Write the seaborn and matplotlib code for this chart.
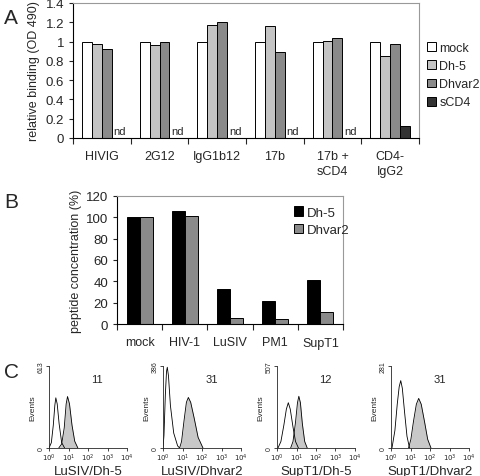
import numpy as np
import pandas as pd
import seaborn as sns
from matplotlib import pyplot as plt
from matplotlib.ticker import FormatStrFormatter, FixedLocator

sns.set_style('ticks')
plt.rcParams['font.family'] = ['Liberation Sans', 'DejaVu Sans']

# panel A data
a_groups = ['HIVIG', '2G12', 'IgG1b12', '17b', '17b +\nsCD4', 'CD4-\nIgG2']
a_series = ['mock', 'Dh-5', 'Dhvar2', 'sCD4']
a_mock = [1.0, 1.0, 1.0, 1.0, 1.0, 1.0]
a_dh5 = [0.98, 0.965, 1.17, 1.16, 1.01, 0.85]
a_dhvar2 = [0.92, 1.0, 1.2, 0.89, 1.04, 0.975]
a_scd4 = [np.nan, np.nan, np.nan, np.nan, np.nan, 0.12]
a_colors = ['white', '#c4c4c4', '#8a8a8a', '#333333']

# panel B data
b_groups = ['mock', 'HIV-1', 'LuSIV', 'PM1', 'SupT1']
b_series = ['Dh-5', 'Dhvar2']
b_dh5 = [100, 106, 33, 21.5, 41.5]
b_dhvar2 = [100, 101, 6, 5, 11.5]
b_colors = ['black', '#8a8a8a']

# panel C data (log10 fluorescence, events)
c_titles = ['LuSIV/Dh-5', 'LuSIV/Dhvar2', 'SupT1/Dh-5', 'SupT1/Dhvar2']
c_max = [613, 386, 507, 281]
c_pct = ['11', '31', '12', '31']
c_open_x = [
    [0.0, 0.12, 0.22, 0.30, 0.35, 0.42, 0.52, 0.65, 0.80],
    [0.0, 0.05, 0.12, 0.18, 0.22, 0.28, 0.38, 0.55, 0.75, 0.85],
    [0.05, 0.2, 0.35, 0.48, 0.58, 0.68, 0.82, 0.95, 1.1],
    [0.05, 0.2, 0.32, 0.42, 0.5, 0.58, 0.7, 0.82, 0.95],
]
c_open_y = [
    [0, 40, 170, 320, 375, 330, 180, 40, 0],
    [0, 60, 250, 360, 380, 340, 200, 70, 10, 0],
    [0, 40, 140, 240, 280, 240, 130, 40, 0],
    [0, 60, 150, 210, 231, 205, 120, 40, 0],
]
c_fill_x = [
    [0.50, 0.65, 0.78, 0.88, 0.95, 1.05, 1.18, 1.32, 1.48],
    [0.85, 0.95, 1.08, 1.2, 1.3, 1.42, 1.6, 1.8, 2.05],
    [0.7, 0.82, 0.95, 1.05, 1.12, 1.2, 1.3, 1.42, 1.55],
    [0.9, 1.02, 1.15, 1.3, 1.42, 1.55, 1.72, 1.88, 2.05],
]
c_fill_y = [
    [0, 30, 150, 330, 385, 330, 170, 50, 0],
    [0, 30, 130, 215, 238, 215, 140, 50, 0],
    [0, 40, 160, 280, 320, 280, 150, 40, 0],
    [0, 30, 90, 150, 170, 150, 90, 30, 0],
]

W, H = 480, 477
fig = plt.figure(figsize=(4.8, 4.77), dpi=100)


def box(x0, y0, x1, y1):
    return [x0 / W, 1 - y1 / H, (x1 - x0) / W, (y1 - y0) / H]


def style_box(ax):
    for s in ['top', 'right']:
        ax.spines[s].set_visible(True)
        ax.spines[s].set_color('#999999')
        ax.spines[s].set_linewidth(0.8)
    for s in ['left', 'bottom']:
        ax.spines[s].set_color('black')
        ax.spines[s].set_linewidth(0.8)


# ---- A ----
dfa = pd.DataFrame({'group': np.repeat(a_groups, 4),
                    'series': a_series * len(a_groups),
                    'value': np.ravel(np.column_stack([a_mock, a_dh5, a_dhvar2, a_scd4]))})
axA = fig.add_axes(box(73, 4, 419, 139))
wA = 0.69
sns.barplot(data=dfa, x='group', y='value', hue='series', palette=a_colors,
            width=wA, edgecolor='black', linewidth=0.7, ax=axA)
for i, v in enumerate(a_scd4):
    if np.isnan(v):
        axA.text(i + wA / 4 + 0.03, 0.02, 'nd', fontsize=8, ha='left', va='bottom')
axA.set_ylim(0, 1.4)
axA.set_xlim(-0.5, len(a_groups) - 0.5)
axA.set_yticks(np.arange(0, 1.41, 0.2))
axA.yaxis.set_major_formatter(FormatStrFormatter('%g'))
axA.tick_params(axis='y', labelsize=9.5, length=3, width=0.8)
axA.tick_params(axis='x', which='major', length=0, pad=9, labelsize=9)
axA.xaxis.set_minor_locator(FixedLocator(np.arange(-0.5, len(a_groups), 1)))
axA.tick_params(axis='x', which='minor', length=4, width=0.8)
for lab in axA.get_xticklabels():
    lab.set_linespacing(1.3)
    lab.set_va('top')
axA.set_xlabel('')
axA.set_ylabel('relative binding (OD 490)', fontsize=9, labelpad=4)
style_box(axA)
axA.legend(loc='upper left', bbox_to_anchor=(1.008, 0.75), frameon=False,
           fontsize=9, handlelength=0.7, handleheight=0.7, handletextpad=0.3,
           labelspacing=0.5, borderaxespad=0)
fig.text(4 / W, 1 - 18 / H, 'A', fontsize=15, va='center')

# ---- B ----
dfb = pd.DataFrame({'group': np.repeat(b_groups, 2),
                    'series': b_series * len(b_groups),
                    'value': np.ravel(np.column_stack([b_dh5, b_dhvar2]))})
axB = fig.add_axes(box(117, 197, 343, 325))
sns.barplot(data=dfb, x='group', y='value', hue='series', palette=b_colors,
            width=0.575, edgecolor='black', linewidth=0.7, ax=axB)
axB.set_ylim(0, 120)
axB.set_xlim(-0.5, len(b_groups) - 0.5)
axB.set_yticks(np.arange(0, 121, 20))
axB.tick_params(axis='y', labelsize=9.5, length=3, width=0.8)
axB.tick_params(axis='x', which='major', length=0, pad=9, labelsize=9)
axB.xaxis.set_minor_locator(FixedLocator(np.arange(-0.5, len(b_groups), 1)))
axB.tick_params(axis='x', which='minor', length=4, width=0.8)
axB.set_xlabel('')
axB.set_ylabel('peptide concentration (%)', fontsize=9, labelpad=3)
style_box(axB)
axB.legend(loc='upper left', bbox_to_anchor=(0.76, 0.96), frameon=False,
           fontsize=9.5, handlelength=0.7, handleheight=0.7, handletextpad=0.3,
           labelspacing=0.4, borderaxespad=0)
fig.text(4 / W, 1 - 203 / H, 'B', fontsize=15, va='center')

# ---- C ----
for k, x0 in enumerate([49, 163, 277, 391]):
    ax = fig.add_axes(box(x0, 367, x0 + 78, 449))
    fx = 10 ** np.array(c_fill_x[k])
    ax.fill_between(fx, c_fill_y[k], color='#c8c8c8', lw=0)
    sns.lineplot(x=fx, y=c_fill_y[k], color='black', lw=0.6, ax=ax, sort=False)
    sns.lineplot(x=10 ** np.array(c_open_x[k]), y=c_open_y[k], color='black', lw=0.6,
                 ax=ax, sort=False)
    ax.set_xscale('log')
    ax.set_xlim(1, 1e4)
    ax.set_ylim(0, c_max[k])
    ax.set_xticks([1, 10, 100, 1000, 10000])
    ax.set_xticklabels(['$10^0$', '$10^1$', '$10^2$', '$10^3$', '$10^4$'])
    ax.xaxis.set_minor_locator(FixedLocator([]))
    ax.set_yticks([0, c_max[k]])
    ax.set_yticklabels(['0', str(c_max[k])], rotation=90, va='center')
    ax.tick_params(labelsize=5, length=2, width=0.6, pad=1)
    ax.set_ylabel('Events', fontsize=6, labelpad=1)
    ax.set_xlabel(c_titles[k], fontsize=9.5, labelpad=1)
    ax.text(0.62, 0.8, c_pct[k], transform=ax.transAxes, fontsize=8, ha='center')
    sns.despine(ax=ax)
    for s in ['left', 'bottom']:
        ax.spines[s].set_linewidth(0.6)
fig.text(4 / W, 1 - 372 / H, 'C', fontsize=15, va='center')

fig.savefig('out.png', dpi=100)
